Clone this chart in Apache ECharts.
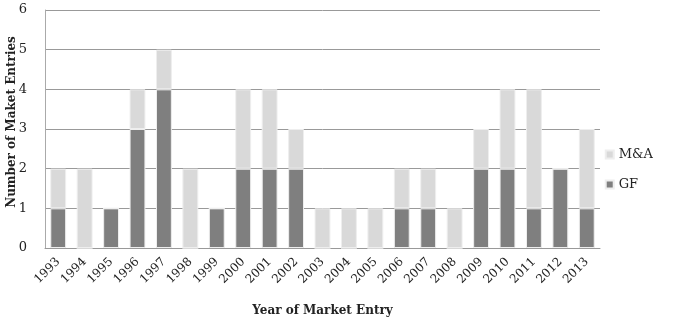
<!DOCTYPE html>
<html>
<head>
<meta charset="utf-8">
<script src="https://cdn.jsdelivr.net/npm/echarts@6/dist/echarts.min.js"></script>
<style>
  html, body { margin: 0; padding: 0; background: #fff; }
  #chart { width: 675px; height: 330px; }
</style>
</head>
<body>
<div id="chart"></div>
<script>
// years on x axis
let years = ['1993', '1994', '1995', '1996', '1997', '1998', '1999', '2000', '2001', '2002', '2003',
    '2004', '2005', '2006', '2007', '2008', '2009', '2010', '2011', '2012', '2013'];
// greenfield entries (bottom)
let gfValues = [1, 0, 1, 3, 4, 0, 1, 2, 2, 2, 0, 0, 0, 1, 1, 0, 2, 2, 1, 2, 1];
// M&A entries (stacked on top)
let maValues = [1, 2, 0, 1, 1, 2, 0, 2, 2, 1, 1, 1, 1, 1, 1, 1, 1, 2, 3, 0, 2];

let font = 'DejaVu Serif';

let chart = echarts.init(document.getElementById('chart'));
let option = {
    animation: false,
    textStyle: { fontFamily: font },
    grid: { left: 45, right: 75, top: 10, bottom: 82, outerBoundsMode: 'none' },
    legend: {
        orient: 'vertical',
        right: 17,
        top: 143,
        itemWidth: 8,
        itemHeight: 8,
        itemGap: 17,
        icon: 'rect',
        textStyle: { fontFamily: font, fontSize: 13, color: '#222' },
        data: ['M&A', 'GF']
    },
    // y axis title, placed by hand so it is not pushed off the left edge
    graphic: [{
        type: 'text',
        x: 12,
        y: 122,
        rotation: Math.PI / 2,
        style: {
            text: 'Number of Maket Entries',
            font: 'bold 12px "DejaVu Serif"',
            fill: '#222',
            align: 'center',
            verticalAlign: 'middle'
        }
    }],
    xAxis: {
        type: 'category',
        data: years,
        name: 'Year of Market Entry',
        nameLocation: 'middle',
        nameGap: 57,
        nameTextStyle: { fontFamily: font, fontWeight: 'bold', fontSize: 12, color: '#222' },
        axisLine: { lineStyle: { color: '#999' } },
        axisTick: { show: false },
        axisLabel: { rotate: 45, fontSize: 12, color: '#222', margin: 12 }
    },
    yAxis: {
        type: 'value',
        min: 0,
        max: 6,
        interval: 1,
        axisLine: { show: true, lineStyle: { color: '#aaa' } },
        axisTick: { show: false },
        axisLabel: { fontSize: 13, color: '#222', margin: 18 },
        splitLine: { lineStyle: { color: '#999' } }
    },
    series: [
        {
            name: 'GF',
            type: 'bar',
            stack: 'total',
            barWidth: '60%',
            data: gfValues,
            itemStyle: { color: '#7f7f7f', borderColor: '#eeeeee', borderWidth: 1 }
        },
        {
            name: 'M&A',
            type: 'bar',
            stack: 'total',
            data: maValues,
            itemStyle: { color: '#d9d9d9', borderColor: '#eeeeee', borderWidth: 1 }
        }
    ]
};
chart.setOption(option);
</script>
</body>
</html>
